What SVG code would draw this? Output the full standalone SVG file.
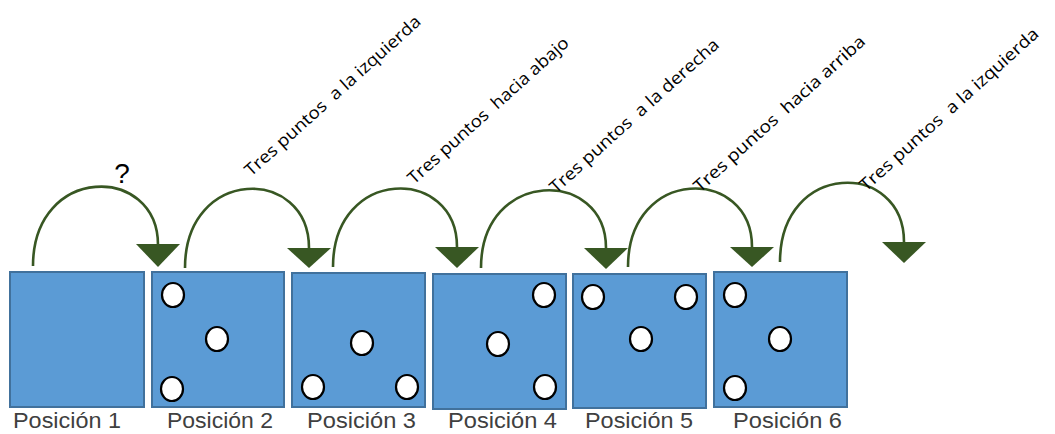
<svg xmlns="http://www.w3.org/2000/svg" width="1055" height="434" viewBox="0 0 1055 434">
<style>
.box{fill:#5b9bd5;stroke:#41719c;stroke-width:2}
.dot{fill:#ffffff;stroke:#000000;stroke-width:2.2}
.arc{fill:none;stroke:#385723;stroke-width:2.6}
.head{fill:#385723}
.pos{font-family:"Liberation Sans",Arial,sans-serif;font-size:22px;fill:#404040}
.lbl{font-family:"Open Sans","Liberation Sans",sans-serif;font-size:17px;fill:#000000}
.q{font-family:"Liberation Sans",Arial,sans-serif;font-size:28px;fill:#000000}
</style>
<rect width="1055" height="434" fill="#ffffff"/>
<g id="connectors">
<path class="arc" d="M33,266 C33,164 158,164 158,245"/>
<polygon class="head" points="136,244 180,244 158,267"/>
<path class="arc" d="M185,268 C185,166 309,166 309,248"/>
<polygon class="head" points="287,248 331,248 309,268"/>
<path class="arc" d="M333,267 C333,166 457,166 457,247"/>
<polygon class="head" points="435,247 479,247 457,268"/>
<path class="arc" d="M481,268 C481,168 606,168 606,248"/>
<polygon class="head" points="584,248 628,248 606,269"/>
<path class="arc" d="M628,267 C628,166 752,166 752,247"/>
<polygon class="head" points="730,247 774,247 752,267"/>
<path class="arc" d="M780,262 C780,160 904,160 904,242"/>
<polygon class="head" points="882,242 926,242 904,263"/>
</g>
<g id="pos1">
<rect class="box" x="10" y="272" width="134" height="135"/>
<text class="pos" x="13" y="428" textLength="108" lengthAdjust="spacingAndGlyphs">Posición 1</text>
</g>
<g id="pos2">
<rect class="box" x="152" y="272" width="132" height="135"/>
<ellipse class="dot" cx="173" cy="295" rx="11" ry="12"/>
<ellipse class="dot" cx="217" cy="339" rx="11" ry="12"/>
<ellipse class="dot" cx="172" cy="389" rx="11" ry="12"/>
<text class="pos" x="167" y="428" textLength="106" lengthAdjust="spacingAndGlyphs">Posición 2</text>
</g>
<g id="pos3">
<rect class="box" x="292" y="273" width="133" height="134"/>
<ellipse class="dot" cx="362" cy="343" rx="11" ry="12"/>
<ellipse class="dot" cx="313" cy="387" rx="11" ry="12"/>
<ellipse class="dot" cx="407" cy="387" rx="11" ry="12"/>
<text class="pos" x="307" y="428" textLength="109" lengthAdjust="spacingAndGlyphs">Posición 3</text>
</g>
<g id="pos4">
<rect class="box" x="433" y="274" width="133" height="135"/>
<ellipse class="dot" cx="544" cy="295" rx="11" ry="12"/>
<ellipse class="dot" cx="498" cy="344" rx="11" ry="12"/>
<ellipse class="dot" cx="545" cy="387" rx="11" ry="12"/>
<text class="pos" x="448" y="428" textLength="109" lengthAdjust="spacingAndGlyphs">Posición 4</text>
</g>
<g id="pos5">
<rect class="box" x="573" y="274" width="133" height="134"/>
<ellipse class="dot" cx="593" cy="297" rx="11" ry="12"/>
<ellipse class="dot" cx="686" cy="297" rx="11" ry="12"/>
<ellipse class="dot" cx="641" cy="339" rx="11" ry="12"/>
<text class="pos" x="585" y="428" textLength="108" lengthAdjust="spacingAndGlyphs">Posición 5</text>
</g>
<g id="pos6">
<rect class="box" x="714" y="272" width="133" height="135"/>
<ellipse class="dot" cx="735" cy="295" rx="11" ry="12"/>
<ellipse class="dot" cx="780" cy="339" rx="11" ry="12"/>
<ellipse class="dot" cx="735" cy="388" rx="11" ry="12"/>
<text class="pos" x="733" y="428" textLength="109" lengthAdjust="spacingAndGlyphs">Posición 6</text>
</g>
<g id="labels">
<text class="q" x="122" y="183" text-anchor="middle">?</text>
<text class="lbl" xml:space="preserve" transform="translate(251,177) rotate(-42)" textLength="230" lengthAdjust="spacingAndGlyphs">Tres puntos  a la izquierda</text>
<text class="lbl" xml:space="preserve" transform="translate(414,185) rotate(-42)" textLength="210" lengthAdjust="spacingAndGlyphs">Tres puntos  hacia abajo</text>
<text class="lbl" xml:space="preserve" transform="translate(556,194) rotate(-42)" textLength="221" lengthAdjust="spacingAndGlyphs">Tres puntos  a la derecha</text>
<text class="lbl" xml:space="preserve" transform="translate(700,193) rotate(-42)" textLength="224" lengthAdjust="spacingAndGlyphs">Tres puntos  hacia arriba</text>
<text class="lbl" xml:space="preserve" transform="translate(866,192) rotate(-42)" textLength="234" lengthAdjust="spacingAndGlyphs">Tres puntos  a la izquierda</text>
</g>
</svg>
